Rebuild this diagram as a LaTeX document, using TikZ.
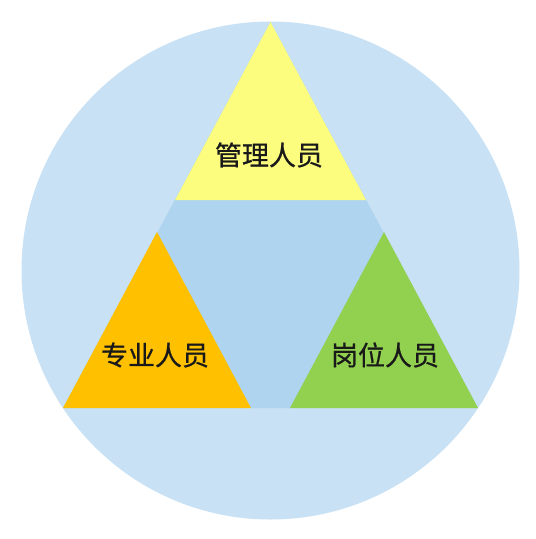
\documentclass[tikz,border=0pt]{standalone}
\usepackage{fontspec}
\newfontfamily\cjk[FakeBold=0.6]{Noto Sans CJK SC}
\usepackage{tikz}
\usetikzlibrary{positioning}
\definecolor{ringblue}{HTML}{C8E1F4}
\definecolor{coreblue}{HTML}{AED4EF}
\definecolor{mgryellow}{HTML}{FCFC7E}
\definecolor{proorange}{HTML}{FFC000}
\definecolor{postgreen}{HTML}{92D050}
\tikzset{
    raw tri/.style={draw=none},
    tri top/.style={raw tri, fill=mgryellow},
    tri left/.style={raw tri, fill=proorange},
    tri right/.style={raw tri, fill=postgreen},
    role label/.style={font=\cjk\fontsize{27}{30}\selectfont, text=black!90, inner sep=0pt, align=center}
}
\begin{document}
\begin{tikzpicture}[x=1pt,y=-1pt]
	\useasboundingbox (0,0) rectangle (536,539);
	% outer ring
	\fill[ringblue] (270.5,270.5) circle (249);
	% big triangle and the three corners
	\coordinate (apex) at (270.5,22);
	\coordinate (bl) at (63,408);
	\coordinate (br) at (478,408);
	\fill[coreblue] (apex) -- (bl) -- (br) -- cycle;
	\path[tri top] (apex) -- (175,200) -- (366,200) -- cycle;
	\path[tri left] (157,232) -- (bl) -- (251,408) -- cycle;
	\path[tri right] (384,232) -- (290,408) -- (br) -- cycle;
	% labels
	\node[role label] (mgr) at (269,155) {管理人员};
	\node[role label] (pro) at (155,355) {专业人员};
	\node[role label] (post) at (385,355) {岗位人员};
\end{tikzpicture}
\end{document}
